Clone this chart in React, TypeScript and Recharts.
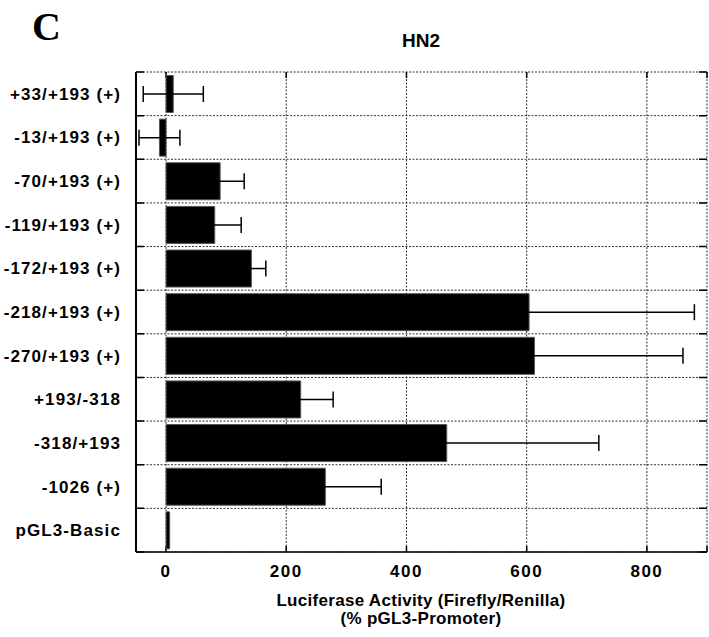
import React from 'react';
import {
  BarChart,
  Bar,
  XAxis,
  YAxis,
  CartesianGrid,
  ErrorBar
} from 'recharts';

const categories = [
  '+33/+193 (+)',
  '-13/+193 (+)',
  '-70/+193 (+)',
  '-119/+193 (+)',
  '-172/+193 (+)',
  '-218/+193 (+)',
  '-270/+193 (+)',
  '+193/-318',
  '-318/+193',
  '-1026 (+)',
  'pGL3-Basic',
];
const activity = [12, -11, 90, 81, 142, 604, 613, 224, 467, 265, 6];
const errors = [50, 34, 40, 44, 24, 275, 247, 54, 253, 93, 0];
const xTicks = [0, 200, 400, 600, 800];

const FONT = '"Liberation Sans", Arial, Helvetica, sans-serif';

const chartData = categories.map((name, i) => ({
  name,
  value: activity[i],
  err: errors[i],
}));

// dotted lines between the rows (band edges of the category axis)
const rowLines = (props: any) => {
  const { yAxis, offset } = props;
  const scale = yAxis?.scale;
  if (typeof scale === 'function' && typeof scale.bandwidth === 'function') {
    const starts = categories.map((c) => scale(c)).filter((v: any) => Number.isFinite(v));
    if (starts.length === categories.length) {
      return [...starts, starts[starts.length - 1] + scale.bandwidth()];
    }
  }
  const n = categories.length;
  return Array.from({ length: n + 1 }, (_, i) => offset.top + (offset.height * i) / n);
};

export default function App() {
  return (
    <div style={{ position: 'absolute', left: 0, top: 0, width: 709, height: 637, background: '#fff' }}>
      <BarChart
        width={709}
        height={637}
        data={chartData}
        layout="vertical"
        margin={{ top: 72, right: 2, bottom: 0, left: 0 }}
        barCategoryGap="8%"
      >
        <CartesianGrid
          xAxisId="bottom"
          yAxisId="cat"
          stroke="#333"
          strokeDasharray="2 1.5"
          strokeWidth={1}
          horizontalCoordinatesGenerator={rowLines}
        />
        {/* short inward tick marks on the frame */}
        <CartesianGrid
          xAxisId="bottom"
          yAxisId="cat"
          stroke="#000"
          strokeDasharray="8 555 8"
          strokeWidth={1.5}
          vertical={false}
          horizontalCoordinatesGenerator={rowLines}
        />
        <CartesianGrid
          xAxisId="bottom"
          yAxisId="cat"
          stroke="#000"
          strokeDasharray="6 468 6"
          strokeWidth={1.5}
          horizontal={false}
        />
        <XAxis
          xAxisId="bottom"
          type="number"
          domain={[-50, 900]}
          allowDataOverflow
          ticks={xTicks}
          orientation="bottom"
          height={85}
          tickSize={0}
          tickMargin={13}
          axisLine={{ stroke: '#000', strokeWidth: 1.5 }}
          tick={{ fill: '#000', fontSize: 17, fontWeight: 'bold', fontFamily: FONT, letterSpacing: 1.5 }}
        />
        <XAxis
          xAxisId="top"
          type="number"
          domain={[-50, 900]}
          allowDataOverflow
          orientation="top"
          height={0}
          tick={false}
          axisLine={{ stroke: '#000', strokeWidth: 1.5 }}
        />
        <YAxis
          yAxisId="cat"
          type="category"
          dataKey="name"
          width={136}
          tickSize={0}
          tickMargin={15}
          interval={0}
          axisLine={{ stroke: '#000', strokeWidth: 2 }}
          tick={{ fill: '#000', fontSize: 17, fontWeight: 'bold', fontFamily: FONT, letterSpacing: 1.1 }}
        />
        <YAxis
          yAxisId="right"
          type="category"
          dataKey="name"
          orientation="right"
          width={0}
          tick={false}
          tickLine={false}
          axisLine={{ stroke: '#000', strokeWidth: 1.5 }}
        />
        <Bar
          xAxisId="bottom"
          yAxisId="cat"
          dataKey="value"
          fill="#000"
          stroke="#555"
          strokeWidth={1}
          isAnimationActive={false}
        >
          <ErrorBar dataKey="err" direction="x" width={8} stroke="#000" strokeWidth={1.5} />
        </Bar>
      </BarChart>
      <svg
        width={709}
        height={637}
        style={{ position: 'absolute', left: 0, top: 0, pointerEvents: 'none' }}
      >
        <text x={32} y={40} fontFamily='"Liberation Serif", "Times New Roman", serif' fontWeight="bold" fontSize={40}>
          C
        </text>
        <text x={421} y={46.5} textAnchor="middle" fontFamily={FONT} fontWeight="bold" fontSize={19}>
          HN2
        </text>
        <text x={421} y={606} textAnchor="middle" fontFamily={FONT} fontWeight="bold" fontSize={17} letterSpacing={0.3}>
          Luciferase Activity (Firefly/Renilla)
        </text>
        <text x={421} y={624} textAnchor="middle" fontFamily={FONT} fontWeight="bold" fontSize={17} letterSpacing={0.3}>
          (% pGL3-Promoter)
        </text>
      </svg>
    </div>
  );
}
